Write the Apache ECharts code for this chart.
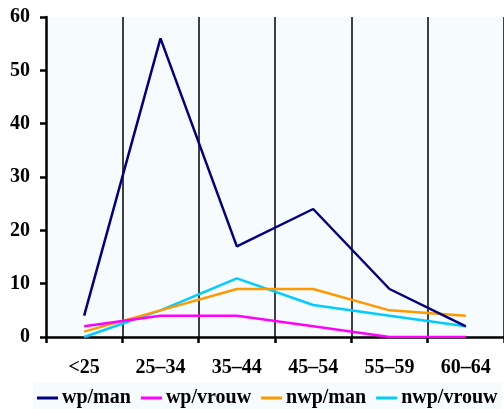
<!DOCTYPE html>
<html><head><meta charset="utf-8">
<script src="https://cdn.jsdelivr.net/npm/echarts@6/dist/echarts.min.js"></script>
<style>html,body{margin:0;padding:0;background:#fff;overflow:hidden}#c{width:504px;height:409px}</style>
</head><body><div id="c"></div>
<script>
var categories = ['<25', '25–34', '35–44', '45–54', '55–59', '60–64'];
var wpMan = [4, 56, 17, 24, 9, 2];
var wpVrouw = [2, 4, 4, 2, 0, 0];
var nwpMan = [1, 5, 9, 9, 5, 4];
var nwpVrouw = [0, 5, 11, 6, 4, 2];
var seriesNames = ['wp/man', 'wp/vrouw', 'nwp/man', 'nwp/vrouw'];
var colors = ['#000080', '#ff00ff', '#ff9900', '#00ccff'];
var yTicks = {min: 0, max: 60, interval: 10};

var font = {fontFamily: 'Liberation Serif', fontWeight: 'bold', fontSize: 20, color: '#000'};
var chart = echarts.init(document.getElementById('c'));
var datas = [wpMan, wpVrouw, nwpMan, nwpVrouw];
chart.setOption({
  animation: false,
  color: colors,
  grid: {left: 46, right: -3, top: 17, bottom: 72, backgroundColor: '#f6fbfd', show: true, borderWidth: 0},
  legend: {
    top: 382, left: 33, itemWidth: 21, itemHeight: 3, itemGap: 10,
    padding: [6, 4, 5, 4],
    backgroundColor: '#f6fbfd',
    icon: 'rect',
    textStyle: Object.assign({}, font, {padding: [0, 0, 0, -1]}),
    data: seriesNames
  },
  xAxis: {
    type: 'category', data: categories, boundaryGap: true,
    axisLine: {lineStyle: {color: '#000', width: 2.5}},
    axisTick: {show: true, length: 6, lineStyle: {color: '#000', width: 2.5}},
    axisLabel: Object.assign({}, font, {margin: 21}),
    splitLine: {show: true, interval: function (i) { return i > 0 && i < categories.length; }, lineStyle: {color: '#000', width: 1.5}}
  },
  yAxis: {
    type: 'value', min: yTicks.min, max: yTicks.max, interval: yTicks.interval,
    axisLine: {show: true, lineStyle: {color: '#000', width: 2.5}},
    axisTick: {show: true, length: 6, lineStyle: {color: '#000', width: 2.5}},
    axisLabel: Object.assign({}, font, {margin: 16}),
    splitLine: {show: false}
  },
  series: seriesNames.map(function (n, i) {
    return {name: n, type: 'line', data: datas[i], symbol: 'none',
      lineStyle: {width: 2.5, color: colors[i]}, z: 10 - i};
  })
});
</script></body></html>
